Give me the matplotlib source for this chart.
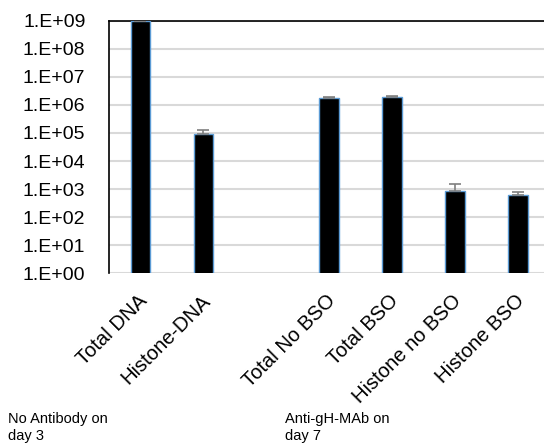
import numpy as np
import matplotlib.pyplot as plt
import matplotlib.transforms as mtransforms
from matplotlib.ticker import FixedLocator, FuncFormatter

plt.rcParams['font.family'] = ['Liberation Sans', 'DejaVu Sans']

# slot 2 is left empty to separate the two groups
labels = ["Total DNA", "Histone-DNA", "", "Total No BSO", "Total BSO",
          "Histone no BSO", "Histone BSO"]
values = [1.0e9, 9.2e4, np.nan, 1.72e6, 1.98e6, 8.9e2, 6.3e2]
errors = [0.0, 3.2e4, np.nan, 1.5e5, 1.7e5, 6.0e2, 1.3e2]

fig = plt.figure(figsize=(5.44, 4.46), dpi=100)
ax = fig.add_axes([0.2004, 0.3872, 0.8094, 0.5664])

x = np.arange(len(labels))
vals = np.array(values, dtype=float)
errs = np.array(errors, dtype=float)
ok = ~np.isnan(vals)

ax.bar(x[ok], vals[ok], width=0.31, color='black', edgecolor='#5B9BD5',
       linewidth=1.0, zorder=3)
ax.errorbar(x[ok], vals[ok], yerr=[np.zeros(ok.sum()), errs[ok]], fmt='none',
            ecolor='#7F7F7F', elinewidth=1.2, capsize=4, capthick=1.2, zorder=4)

ax.set_yscale('log')
ax.set_ylim(1, 1e9)
ax.set_xlim(-0.5, len(labels) - 0.5)
ax.yaxis.set_major_locator(FixedLocator([10.0 ** k for k in range(10)]))
ax.yaxis.set_minor_locator(FixedLocator([]))
ax.yaxis.set_major_formatter(FuncFormatter(lambda v, p: "1.E+%02d" % round(np.log10(v))))
ax.tick_params(axis='y', length=0, labelsize=14, pad=17)

ax.grid(axis='y', color='#D9D9D9', linewidth=1.5, zorder=0)
ax.set_axisbelow(True)

ax.set_xticks(x)
ax.set_xticklabels(labels, rotation=45, ha='right', va='top',
                   rotation_mode='anchor', fontsize=14.5)
ax.tick_params(axis='x', length=0, pad=13)
shift = mtransforms.ScaledTranslation(-3 / 100, 0, fig.dpi_scale_trans)
for t in ax.get_xticklabels():
    t.set_transform(t.get_transform() + shift)

for side in ['right', 'bottom']:
    ax.spines[side].set_visible(False)
ax.spines['left'].set_color('black')
ax.spines['top'].set_color('black')
ax.spines['left'].set_linewidth(1.2)
ax.spines['top'].set_linewidth(1.2)

fig.text(8 / 544, 1 - 412 / 446, "No Antibody on\nday 3", fontsize=10.5,
         va='top', ha='left', linespacing=1.25)
fig.text(285 / 544, 1 - 412 / 446, "Anti-gH-MAb on\nday 7", fontsize=10.5,
         va='top', ha='left', linespacing=1.25)

fig.savefig('out.png', dpi=100)
